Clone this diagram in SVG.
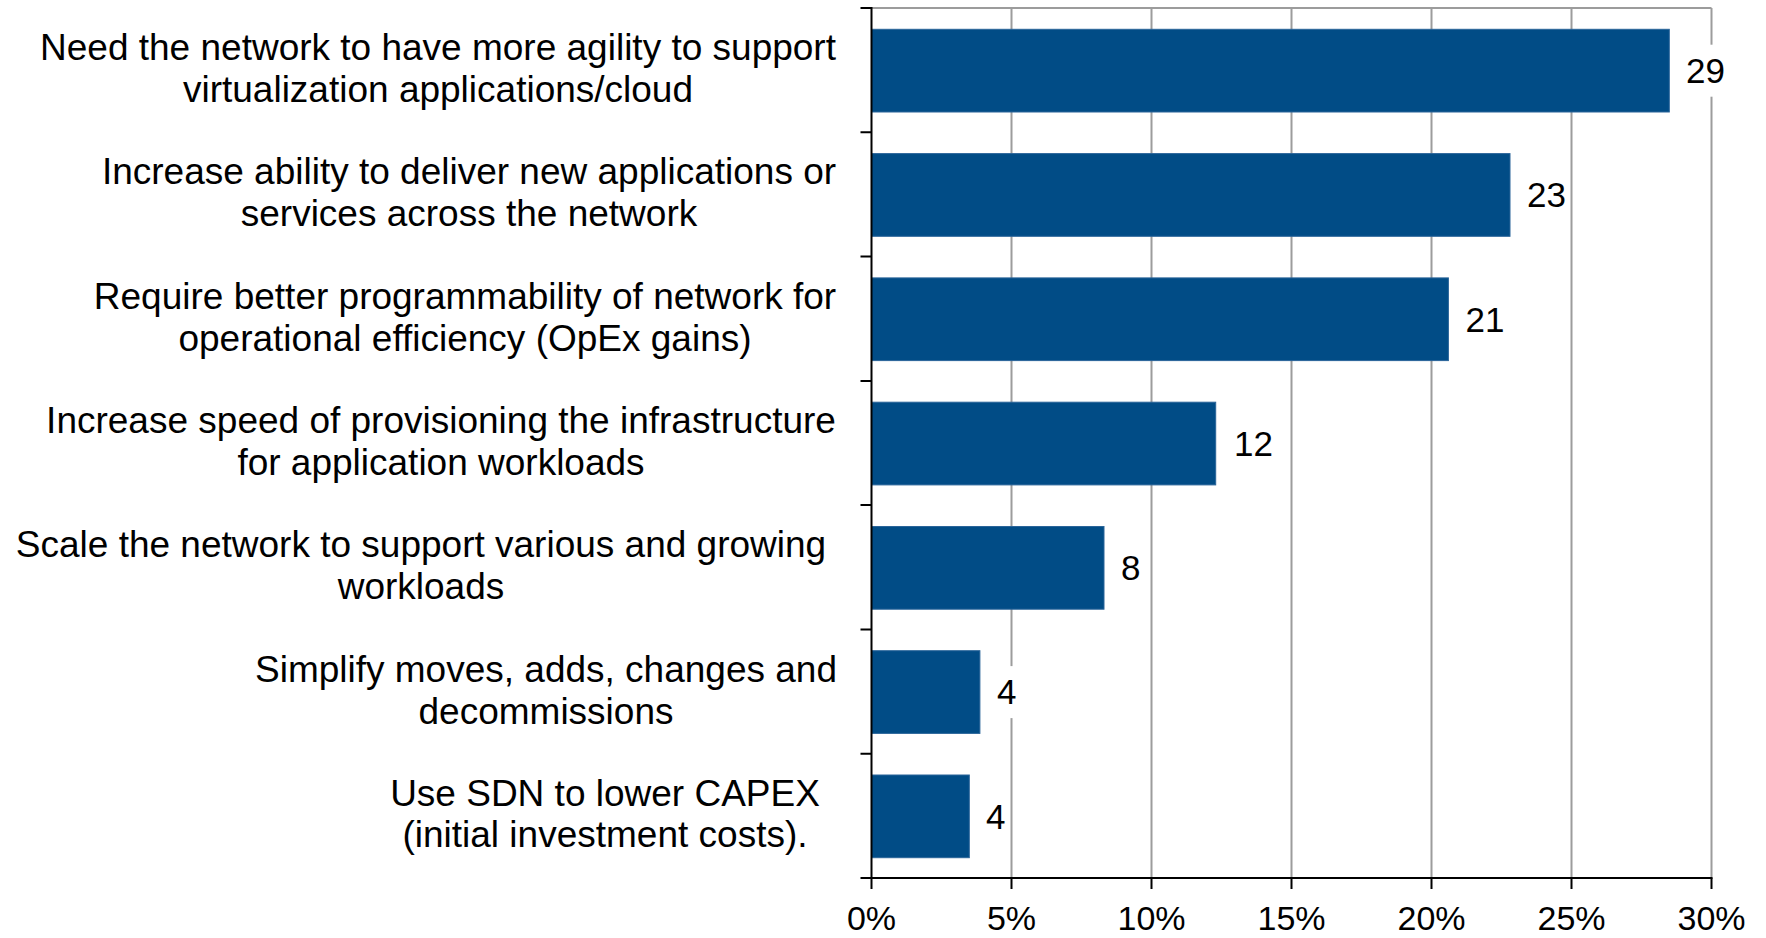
<svg xmlns="http://www.w3.org/2000/svg" width="1766" height="938" viewBox="0 0 1766 938">
<style>
.bg{fill:#ffffff}
.grid{stroke:#9c9c9c;stroke-width:2;fill:none}
.axis{stroke:#000000;stroke-width:2;fill:none}
.bar{fill:#014c86;stroke:#2a6499;stroke-width:1}
.cat{font-family:"Liberation Sans",Arial,sans-serif;font-size:37px;fill:#000;text-anchor:middle}
.val{font-family:"Liberation Sans",Arial,sans-serif;font-size:35px;fill:#000}
.tick{font-family:"Liberation Sans",Arial,sans-serif;font-size:34px;fill:#000;text-anchor:middle}
.lblbox{fill:#ffffff}
</style>
<rect class="bg" x="0" y="0" width="1766" height="938"/>
<g id="gridlines">
<line class="grid" x1="871.5" y1="8" x2="1711.5" y2="8"/>
<line class="grid" x1="1011.5" y1="8" x2="1011.5" y2="878"/>
<line class="grid" x1="1151.5" y1="8" x2="1151.5" y2="878"/>
<line class="grid" x1="1291.5" y1="8" x2="1291.5" y2="878"/>
<line class="grid" x1="1431.5" y1="8" x2="1431.5" y2="878"/>
<line class="grid" x1="1571.5" y1="8" x2="1571.5" y2="878"/>
<line class="grid" x1="1711.5" y1="8" x2="1711.5" y2="878"/>
</g>
<g id="bar1">
<rect class="bar" x="871.5" y="29.3" width="797.8" height="82.7"/>
<rect class="lblbox" x="1681" y="44.7" width="50" height="52"/>
<text class="val" x="1686" y="83">29</text>
<text class="cat" x="438" y="60">Need the network to have more agility to support</text>
<text class="cat" x="438" y="102">virtualization applications/cloud</text>
</g>
<g id="bar2">
<rect class="bar" x="871.5" y="153.6" width="638.5" height="82.7"/>
<rect class="lblbox" x="1522" y="169" width="46" height="52"/>
<text class="val" x="1527" y="207.3">23</text>
<text class="cat" x="469" y="184.4">Increase ability to deliver new applications or</text>
<text class="cat" x="469" y="226.4">services across the network</text>
</g>
<g id="bar3">
<rect class="bar" x="871.5" y="277.9" width="576.9" height="82.7"/>
<rect class="lblbox" x="1460" y="293.3" width="50" height="52"/>
<text class="val" x="1465.5" y="331.6">21</text>
<text class="cat" x="465" y="308.7">Require better programmability of network for</text>
<text class="cat" x="465" y="350.7">operational efficiency (OpEx gains)</text>
</g>
<g id="bar4">
<rect class="bar" x="871.5" y="402.2" width="344.2" height="82.7"/>
<rect class="lblbox" x="1228" y="417.6" width="50" height="52"/>
<text class="val" x="1234" y="455.9">12</text>
<text class="cat" x="441" y="433">Increase speed of provisioning the infrastructure</text>
<text class="cat" x="441" y="475">for application workloads</text>
</g>
<g id="bar5">
<rect class="bar" x="871.5" y="526.5" width="232.5" height="82.7"/>
<rect class="lblbox" x="1116" y="541.9" width="30" height="52"/>
<text class="val" x="1121" y="580.2">8</text>
<text class="cat" x="421" y="557.3">Scale the network to support various and growing</text>
<text class="cat" x="421" y="599.3">workloads</text>
</g>
<g id="bar6">
<rect class="bar" x="871.5" y="650.7" width="108.4" height="82.7"/>
<rect class="lblbox" x="992" y="666.1" width="30" height="52"/>
<text class="val" x="997" y="704.4">4</text>
<text class="cat" x="546" y="681.5">Simplify moves, adds, changes and</text>
<text class="cat" x="546" y="723.5">decommissions</text>
</g>
<g id="bar7">
<rect class="bar" x="871.5" y="775" width="97.8" height="82.7"/>
<rect class="lblbox" x="980.5" y="790.4" width="28" height="52"/>
<text class="val" x="986" y="828.7">4</text>
<text class="cat" x="605" y="805.5">Use SDN to lower CAPEX</text>
<text class="cat" x="605" y="846.5">(initial investment costs).</text>
</g>
<g id="connectors">
<line class="axis" x1="871.5" y1="7" x2="871.5" y2="889"/>
<line class="axis" x1="860.5" y1="878" x2="1712.5" y2="878"/>
<path class="axis" d="M860.5 8H871.5M860.5 132.3H871.5M860.5 256.6H871.5M860.5 380.9H871.5M860.5 505.1H871.5M860.5 629.4H871.5M860.5 753.7H871.5"/>
<path class="axis" d="M1011.5 878V889M1151.5 878V889M1291.5 878V889M1431.5 878V889M1571.5 878V889M1711.5 878V889"/>
</g>
<g id="xlabels">
<text class="tick" x="871.5" y="930">0%</text>
<text class="tick" x="1011.5" y="930">5%</text>
<text class="tick" x="1151.5" y="930">10%</text>
<text class="tick" x="1291.5" y="930">15%</text>
<text class="tick" x="1431.5" y="930">20%</text>
<text class="tick" x="1571.5" y="930">25%</text>
<text class="tick" x="1711.5" y="930">30%</text>
</g>
</svg>
